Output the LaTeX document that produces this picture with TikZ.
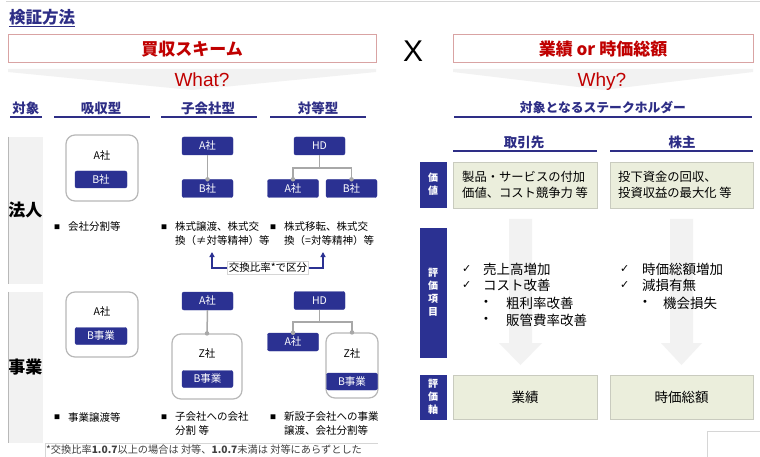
\documentclass[tikz,border=0pt]{standalone}
\usepackage{fontspec}
\setmainfont{Noto Sans CJK JP}
\newfontfamily\latinf{Liberation Sans}
\newfontfamily\symf{DejaVu Sans}
\usetikzlibrary{arrows.meta}
\definecolor{navy}{HTML}{2B3192}
\definecolor{headnavy}{HTML}{2E2E86}
\definecolor{jred}{HTML}{C00000}
\definecolor{redline}{HTML}{D9A3A3}
\definecolor{beige}{HTML}{EBEEDC}
\definecolor{beigeline}{HTML}{C9CBBF}
\definecolor{lgray}{HTML}{F2F2F2}
\definecolor{connc}{HTML}{A8A8A8}
\definecolor{boxline}{HTML}{B8B8B8}
\definecolor{faint}{HTML}{D6D6D6}
\definecolor{arrowgray}{HTML}{F2F2F2}
\newcommand\fsz[2]{\fontsize{#1}{#2}\selectfont}
\tikzset{
  navybox/.style={fill=navy, draw=navy, rounded corners=2pt, minimum width=51pt, minimum height=18pt, inner sep=0pt, text=white, font=\fsz{10.5}{12}},
  roundbox/.style={draw=boxline, line width=1.2pt, rounded corners=9pt, fill=white, inner sep=0pt},
  plain/.style={font=\fsz{10.5}{12}, inner sep=0pt},
  hdr/.style={font=\fsz{13.5}{15}\bfseries, text=headnavy, inner sep=0pt},
  hline/.style={draw=headnavy, line width=1.6pt},
  redbox/.style={draw=redline, line width=1pt, fill=white, inner sep=0pt, font=\fsz{17}{19}\bfseries, text=jred},
  qtext/.style={font=\latinf\fsz{19}{21}, text=jred, inner sep=0pt, anchor=base},
  rowlabel/.style={fill=lgray, inner sep=0pt, font=\fsz{17}{19}\bfseries},
  bul/.style={font=\fsz{6}{7}, inner sep=0pt},
  btext/.style={font=\fsz{10.5}{14}, align=left, anchor=west, inner sep=0pt},
  link/.style={draw=connc, line width=1.5pt},
  jdot/.style={circle, fill=connc, inner sep=0pt, minimum size=4.5pt},
  sidelab/.style={fill=navy, draw=navy, inner sep=0pt, minimum width=26pt, text=white, font=\fsz{10}{13}\bfseries, align=center},
  valbox/.style={fill=beige, draw=beigeline, line width=0.6pt, inner sep=0pt, minimum width=144pt},
  ltext/.style={font=\fsz{13.5}{15}, anchor=west, inner sep=0pt},
  chk/.style={font=\symf\fsz{11}{13}, anchor=west, inner sep=0pt},
  dotmark/.style={font=\symf\fsz{10}{12}, anchor=west, inner sep=0pt},
  notearrow/.style={draw=navy, line width=1.3pt, -{Triangle[width=5pt,length=5pt]}}
}
\begin{document}
\begin{tikzpicture}[x=1pt,y=-1pt]
\useasboundingbox (0,0) rectangle (760,457);
\fill[white] (0,0) rectangle (760,457);
\draw[faint, line width=0.8pt] (6,1) -- (760,1);
% title
\node[anchor=west, font=\fsz{16.5}{18}\bfseries, text=headnavy, inner sep=0pt] (title) at (9,17) {検証方法};
\draw[headnavy, line width=1pt] ([yshift=-1.5pt]title.south west) -- ([yshift=-1.5pt]title.south east);
% funnels
\fill[lgray] (8,69) -- (376,69) -- (376,72) -- (192,90) -- (8,72) -- cycle;
\fill[lgray] (453,69) -- (753,69) -- (753,72) -- (603,90) -- (453,72) -- cycle;
% header boxes
\node[redbox, minimum width=368pt, minimum height=28pt] (hdrL) at (192,49) {買収スキーム};
\node[redbox, minimum width=300pt, minimum height=28pt] (hdrR) at (603,49) {業績 or 時価総額};
\node[qtext] (what) at (202,87) {What?};
\node[qtext] (why) at (602,87) {Why?};
\node[font=\latinf\fsz{30}{32}, anchor=base, inner sep=0pt] (cross) at (413,62) {X};
% column headers
\node[hdr] (colTarget) at (26,108) {対象};
\draw[hline] (10,117) -- (42,117);
\node[hdr] (colAbs) at (101,108) {吸収型};
\draw[hline] (54,117) -- (150,117);
\node[hdr] (colSub) at (208,108) {子会社型};
\draw[hline] (161,117) -- (257,117);
\node[hdr] (colEq) at (318,108) {対等型};
\draw[hline] (270,117) -- (366,117);
\node[hdr, font=\fsz{12.8}{15}\bfseries] (colStake) at (603,108) {対象となるステークホルダー};
\draw[hline] (454,117) -- (752,117);
% row labels
\node[rowlabel, minimum width=33pt, minimum height=147pt] (rowCorp) at (25.5,210.5) {法人};
\draw[boxline, line width=0.8pt] (rowCorp.north west) -- (rowCorp.south west);
\node[rowlabel, minimum width=33pt, minimum height=151pt] (rowBiz) at (25.5,367.5) {事業};
\draw[boxline, line width=0.8pt] (rowBiz.north west) -- (rowBiz.south west);
% row 1
\node[roundbox, minimum width=72pt, minimum height=66pt] (r1absBox) at (102,168) {};
\node[plain] (r1absA) at (102,156) {A社};
\node[navybox, minimum width=52pt, minimum height=17pt] (r1absB) at (101,179.5) {B社};
\node[navybox] (r1subA) at (207.5,146) {A社};
\node[navybox] (r1subB) at (207.5,188.5) {B社};
\draw[link] (r1subA.south) -- (r1subB.north);
\node[jdot] (r1subDot) at (r1subB.north) {};
\node[navybox] (r1eqHD) at (319.5,146) {HD};
\node[navybox] (r1eqA) at (293,188.5) {A社};
\node[navybox] (r1eqB) at (351.5,188.5) {B社};
\coordinate (r1j) at (319.5,168);
\draw[link] (r1eqHD.south) -- (r1j);
\draw[link] (r1eqA.north) |- (r1j) -| (r1eqB.north);
\node[jdot] (r1eqDotA) at (r1eqA.north) {};
\node[jdot] (r1eqDotB) at (r1eqB.north) {};
\node[bul] (r1absBul) at (57,227) {■};
\node[btext] (r1absTxt) at (68,227) {会社分割等};
\node[bul] (r1subBul) at (164,227) {■};
\node[btext] (r1subTxt) at (175,234) {株式譲渡、株式交\\換（≠対等精神）等};
\node[bul] (r1eqBul) at (273,227) {■};
\node[btext] (r1eqTxt) at (284,234) {株式移転、株式交\\換（=対等精神）等};
% ratio note
\node[plain, fill=white, draw=faint, line width=0.5pt, inner sep=1.5pt] (ratio) at (268,268) {交換比率*で区分};
\coordinate (r1subUp) at (212,252);
\coordinate (r1eqUp) at (323,252);
\draw[notearrow] (ratio.west) -| (r1subUp);
\draw[notearrow] (ratio.east) -| (r1eqUp);
% row 2
\node[roundbox, minimum width=72pt, minimum height=65pt] (r2absBox) at (102,324.5) {};
\node[plain] (r2absA) at (102,312) {A社};
\node[navybox, minimum width=52pt, minimum height=17pt] (r2absB) at (101,336) {B事業};
\node[navybox] (r2subA) at (207.5,301) {A社};
\node[roundbox, minimum width=70pt, minimum height=65pt] (r2subZ) at (207,366.5) {};
\node[plain] (r2subZt) at (207,354) {Z社};
\node[navybox, minimum height=17pt] (r2subB) at (207.5,379) {B事業};
\draw[link] (r2subA.south) -- (r2subZ.north);
\node[jdot] (r2subDot) at (r2subZ.north) {};
\node[navybox] (r2eqHD) at (319.5,300.5) {HD};
\node[navybox] (r2eqA) at (293,342) {A社};
\node[roundbox, minimum width=52pt, minimum height=65pt] (r2eqZ) at (352,365.5) {};
\node[plain] (r2eqZt) at (352,354) {Z社};
\node[navybox, minimum height=17pt] (r2eqB) at (352,381.5) {B事業};
\coordinate (r2j) at (319.5,322);
\draw[link] (r2eqHD.south) -- (r2j);
\draw[link] (r2eqA.north) |- (r2j) -| (r2eqZ.north);
\node[jdot] (r2eqDotA) at (r2eqA.north) {};
\node[jdot] (r2eqDotZ) at (r2eqZ.north) {};
\node[bul] (r2absBul) at (57,417) {■};
\node[btext] (r2absTxt) at (68,417) {事業譲渡等};
\node[bul] (r2subBul) at (164,417) {■};
\node[btext] (r2subTxt) at (175,424) {子会社への会社\\分割 等};
\node[bul] (r2eqBul) at (273,417) {■};
\node[btext] (r2eqTxt) at (284,424) {新設子会社への事業\\譲渡、会社分割等};
% footnote
\draw[faint, line width=0.6pt] (45,457) -- (45,443) -- (378,443);
\node[anchor=west, font=\fsz{10.2}{11}, text=black!75, inner sep=0pt] (foot) at (46,450) {*交換比率\textbf{1.0.7}以上の場合は 対等、\textbf{1.0.7}未満は 対等にあらずとした};
% right side headers
\node[hdr] (stakeA) at (524,142) {取引先};
\draw[hline] (453,151) -- (597,151);
\node[hdr] (stakeB) at (682,142) {株主};
\draw[hline] (610,151) -- (753,151);
% gray arrows
\fill[arrowgray] (509,219) -- (532,219) -- (532,343) -- (542,343) -- (520.5,365) -- (499,343) -- (509,343) -- cycle;
\fill[arrowgray] (670,219) -- (693,219) -- (693,343) -- (702,343) -- (681.5,365) -- (661,343) -- (670,343) -- cycle;
% side labels
\node[sidelab, minimum height=45pt] (labValue) at (433,184.5) {価\\値};
\node[sidelab, minimum height=129pt] (labItems) at (433,292.5) {評\\価\\項\\目};
\node[sidelab, minimum height=44pt] (labAxis) at (433,397) {評\\価\\軸};
% value boxes
\node[valbox, minimum height=46pt] (valA) at (525,185) {};
\node[font=\fsz{12.3}{16}, align=left, anchor=west, inner sep=0pt] (valAt) at (462,185) {製品・サービスの付加\\価値、コスト競争力 等};
\node[valbox, minimum width=143pt, minimum height=46pt] (valB) at (681.5,185) {};
\node[font=\fsz{12.3}{16}, align=left, anchor=west, inner sep=0pt] (valBt) at (618,185) {投下資金の回収、\\投資収益の最大化 等};
% checklists
\node[chk] (ckA1) at (462,269) {✓};
\node[ltext] (itA1) at (483,269) {売上高増加};
\node[chk] (ckA2) at (462,285) {✓};
\node[ltext] (itA2) at (483,285) {コスト改善};
\node[dotmark] (dtA1) at (483,303) {•};
\node[ltext] (itA3) at (506,303) {粗利率改善};
\node[dotmark] (dtA2) at (483,320) {•};
\node[ltext] (itA4) at (506,320) {販管費率改善};
\node[chk] (ckB1) at (620,269) {✓};
\node[ltext] (itB1) at (642,269) {時価総額増加};
\node[chk] (ckB2) at (620,285) {✓};
\node[ltext] (itB2) at (642,285) {減損有無};
\node[dotmark] (dtB1) at (642,303) {•};
\node[ltext] (itB3) at (663,303) {機会損失};
% axis boxes
\node[valbox, minimum height=44pt, font=\fsz{13.5}{15}] (axisA) at (525,397) {業績};
\node[valbox, minimum width=143pt, minimum height=44pt, font=\fsz{13.5}{15}] (axisB) at (681.5,397) {時価総額};
% corner fragment
\draw[faint, line width=0.8pt] (707,457) -- (707,431) -- (760,431);
\end{tikzpicture}
\end{document}
